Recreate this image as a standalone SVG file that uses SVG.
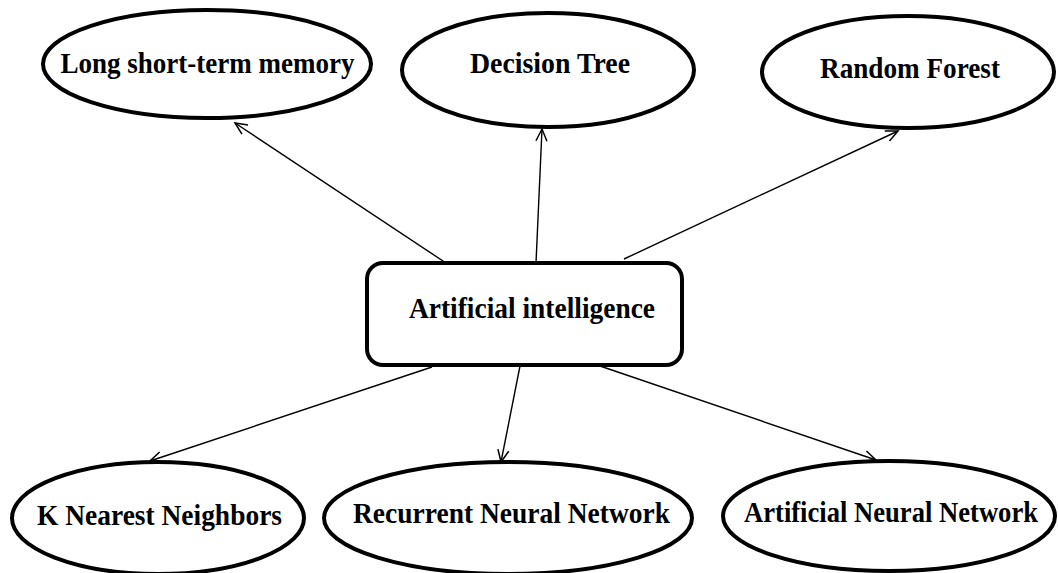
<svg xmlns="http://www.w3.org/2000/svg" width="1058" height="573" viewBox="0 0 1058 573">
  <style>
    .node { fill: #ffffff; stroke: #000000; stroke-width: 4; }
    .label { font-family: "Liberation Serif", "Times New Roman", serif; font-weight: bold; font-size: 29px; fill: #000000; text-anchor: middle; }
    .edge { stroke: #000000; stroke-width: 1.4; fill: none; marker-end: url(#arrow); }
  </style>
  <defs>
    <marker id="arrow" markerUnits="userSpaceOnUse" markerWidth="16" markerHeight="14" refX="14" refY="7" orient="auto">
      <path d="M2,1.5 L14,7 L2,12.5" fill="none" stroke="#000000" stroke-width="1.5"/>
    </marker>
  </defs>
  <rect width="1058" height="573" fill="#ffffff"/>

  <g id="connectors">
    <line class="edge" x1="446" y1="263" x2="235" y2="123"/>
    <line class="edge" x1="536" y1="263" x2="542" y2="129"/>
    <line class="edge" x1="624" y1="259" x2="898" y2="131"/>
    <line class="edge" x1="432" y1="367" x2="150" y2="461"/>
    <line class="edge" x1="520" y1="366" x2="501" y2="462"/>
    <line class="edge" x1="600" y1="366" x2="876" y2="460"/>
  </g>

  <g id="node-ai">
    <rect class="node" x="367" y="263" width="315" height="102" rx="16" ry="16"/>
    <text class="label" x="532" y="318" textLength="246" lengthAdjust="spacingAndGlyphs">Artificial intelligence</text>
  </g>
  <g id="node-lstm">
    <ellipse class="node" cx="207" cy="64" rx="164" ry="54"/>
    <text class="label" x="207.5" y="73" textLength="294" lengthAdjust="spacingAndGlyphs">Long short-term memory</text>
  </g>
  <g id="node-dt">
    <ellipse class="node" cx="548" cy="70" rx="146" ry="57"/>
    <text class="label" x="550" y="73" textLength="160" lengthAdjust="spacingAndGlyphs">Decision Tree</text>
  </g>
  <g id="node-rf">
    <ellipse class="node" cx="908" cy="72" rx="146" ry="56"/>
    <text class="label" x="910" y="78" textLength="180" lengthAdjust="spacingAndGlyphs">Random Forest</text>
  </g>
  <g id="node-knn">
    <ellipse class="node" cx="158" cy="518" rx="146" ry="56"/>
    <text class="label" x="159.5" y="525" textLength="245" lengthAdjust="spacingAndGlyphs">K Nearest Neighbors</text>
  </g>
  <g id="node-rnn">
    <ellipse class="node" cx="508" cy="518" rx="184" ry="56"/>
    <text class="label" x="511.5" y="523" textLength="317" lengthAdjust="spacingAndGlyphs">Recurrent Neural Network</text>
  </g>
  <g id="node-ann">
    <ellipse class="node" cx="889" cy="516" rx="166" ry="55"/>
    <text class="label" x="891" y="522" font-size="27" textLength="294" lengthAdjust="spacingAndGlyphs">Artificial Neural Network</text>
  </g>
</svg>
